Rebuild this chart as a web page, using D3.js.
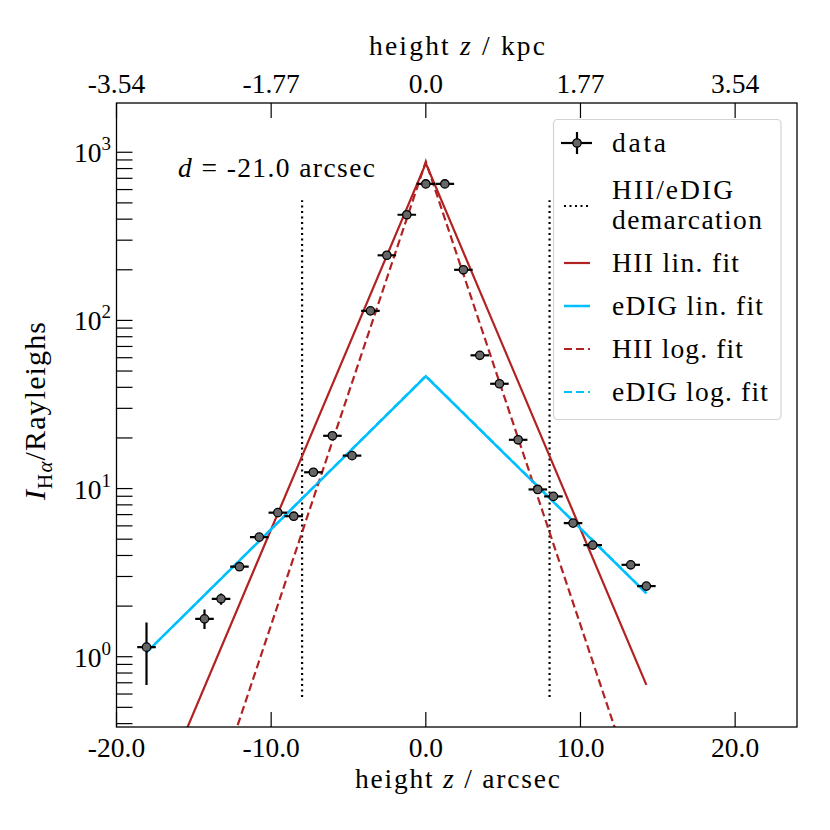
<!DOCTYPE html>
<html>
<head>
<meta charset="utf-8">
<script src="https://cdn.jsdelivr.net/npm/d3@7"></script>
<style>
  html, body { margin: 0; padding: 0; background: #fff; }
  text { font-family: "Liberation Serif", "DejaVu Serif", serif; fill: #000; }
</style>
</head>
<body>
<div id="chart"></div>
<script>
// ---- data ----
const zArcsec = [-18.06, -14.31, -13.24, -12.05, -10.77, -9.57, -8.54, -7.27, -6.04, -4.77,
                 -3.58, -2.52, -1.23, 0.0, 1.23, 2.43, 3.49, 4.76, 5.97, 7.24,
                 8.25, 9.52, 10.79, 13.25, 14.26];
const intensity = [1.14, 1.68, 2.21, 3.43, 5.14, 7.19, 6.85, 12.5, 20.6, 15.7,
                   114, 244, 425, 648, 648, 200, 62, 42.0, 19.5, 9.88,
                   8.98, 6.23, 4.61, 3.52, 2.63];
const intensityLo = [0.68, 1.46, 2.04, 3.3, 4.95, 6.95, 6.6, 12.1, 20.0, 15.2,
                     111, 238, 416, 636, 636, 195, 60.5, 40.8, 18.9, 9.5,
                     8.6, 5.98, 4.4, 3.38, 2.5];
const intensityHi = [1.60, 1.91, 2.38, 3.56, 5.33, 7.43, 7.1, 12.9, 21.2, 16.2,
                     117, 250, 434, 660, 660, 205, 63.5, 43.2, 20.1, 10.26,
                     9.36, 6.48, 4.82, 3.66, 2.76];
const zErr = 0.6;

// fit lines: vertices [z, I]
const hiiLinFit  = [[-18.06, 0.101], [0, 858], [14.26, 0.68]];
const hiiLogFit  = [[-18.06, 0.0093], [0, 880], [14.26, 0.1035]];
const edigLinFit = [[-18.06, 1.06], [0, 46.5], [14.26, 2.38]];
const edigLogFit = [[-18.06, 1.06], [0, 46.8], [14.26, 2.39]];
const demarcZ = [-8.0, 8.0];
const demarcRange = [0.577, 518];

const xTicks = [-20, -10, 0, 10, 20];
const xTickLabels = ["-20.0", "-10.0", "0.0", "10.0", "20.0"];
const topTickLabels = ["-3.54", "-1.77", "0.0", "1.77", "3.54"];
const yMajorExp = [0, 1, 2, 3];
const legendLabels = [["data"], ["HII/eDIG", "demarcation"], ["HII lin. fit"], ["eDIG lin. fit"], ["HII log. fit"], ["eDIG log. fit"]];
const legendWidths = [[54], [121, 150], [127], [151], [131], [156]];

// ---- layout ----
const W = 830, H = 830;
const m = {left: 116.5, right: 797, top: 103, bottom: 727};
const red = "#b22222", cyan = "#00bfff";

const svg = d3.select("#chart").append("svg").attr("width", W).attr("height", H);

const x = d3.scaleLinear().domain([-20, 24]).range([m.left, m.right]);
const y = d3.scaleLog().domain([0.382, 1963]).range([m.bottom, m.top]);

svg.append("defs").append("clipPath").attr("id", "clip")
  .append("rect").attr("x", m.left).attr("y", m.top)
  .attr("width", m.right - m.left).attr("height", m.bottom - m.top);

const fs = 27.5;

// ticks (inside)
const tickG = svg.append("g").attr("stroke", "#000").attr("stroke-width", 1.2);
xTicks.forEach(t => {
  tickG.append("line").attr("x1", x(t)).attr("x2", x(t)).attr("y1", m.bottom).attr("y2", m.bottom - 15);
  tickG.append("line").attr("x1", x(t)).attr("x2", x(t)).attr("y1", m.top).attr("y2", m.top + 15);
});
const yMinor = [];
for (let e = -1; e <= 3; e++) for (let k = 1; k <= 9; k++) {
  const v = k * Math.pow(10, e);
  if (v >= y.domain()[0] && v <= y.domain()[1]) yMinor.push(v);
}
yMinor.forEach(v => {
  tickG.append("line").attr("x1", m.left).attr("x2", m.left + 16).attr("y1", y(v)).attr("y2", y(v));
});

// x tick labels
svg.append("g").selectAll("text").data(xTicks).join("text")
  .attr("x", d => x(d)).attr("y", 757).attr("text-anchor", "middle")
  .attr("font-size", fs).text((d, i) => xTickLabels[i]);
svg.append("g").selectAll("text").data(xTicks).join("text")
  .attr("x", d => x(d)).attr("y", 93).attr("text-anchor", "middle")
  .attr("font-size", fs).text((d, i) => topTickLabels[i]);

// y tick labels
yMajorExp.forEach(e => {
  const t = svg.append("text").attr("x", 111).attr("y", y(Math.pow(10, e)) + 10)
    .attr("text-anchor", "end").attr("font-size", fs);
  t.append("tspan").text("10");
  t.append("tspan").attr("dy", -12).attr("font-size", 19).text(e);
});

// axis labels
const xl = svg.append("text").attr("x", 355).attr("y", 788).attr("font-size", fs)
  .attr("textLength", 205).attr("lengthAdjust", "spacing");
xl.append("tspan").text("height ");
xl.append("tspan").attr("font-style", "italic").text("z");
xl.append("tspan").text(" / arcsec");
const tl = svg.append("text").attr("x", 369).attr("y", 55).attr("font-size", fs)
  .attr("textLength", 176).attr("lengthAdjust", "spacing");
tl.append("tspan").text("height ");
tl.append("tspan").attr("font-style", "italic").text("z");
tl.append("tspan").text(" / kpc");

const yl = svg.append("text").attr("transform", "translate(45,500) rotate(-90)")
  .attr("font-size", 30).attr("textLength", 178).attr("lengthAdjust", "spacing");
yl.append("tspan").attr("font-style", "italic").text("I");
yl.append("tspan").attr("dy", 7).attr("font-size", 21).text("H");
yl.append("tspan").attr("font-size", 21).attr("font-style", "italic").text("α");
yl.append("tspan").attr("dy", -7).text("/Rayleighs");

// annotation
const an = svg.append("text").attr("x", 178).attr("y", 177).attr("font-size", fs)
  .attr("textLength", 197).attr("lengthAdjust", "spacing");
an.append("tspan").attr("font-style", "italic").text("d");
an.append("tspan").text(" = -21.0 arcsec");

// plot content
const plot = svg.append("g").attr("clip-path", "url(#clip)");
const line = d3.line().x(d => x(d[0])).y(d => y(d[1]));

demarcZ.forEach(z => {
  plot.append("line").attr("x1", x(z)).attr("x2", x(z))
    .attr("y1", y(demarcRange[0])).attr("y2", y(demarcRange[1]))
    .attr("stroke", "#000").attr("stroke-width", 2.2).attr("stroke-dasharray", "2,3.5");
});

plot.append("path").datum(hiiLinFit).attr("d", line).attr("fill", "none").attr("stroke", red).attr("stroke-width", 2.2);
plot.append("path").datum(edigLinFit).attr("d", line).attr("fill", "none").attr("stroke", cyan).attr("stroke-width", 2.5);
plot.append("path").datum(hiiLogFit).attr("d", line).attr("fill", "none").attr("stroke", red).attr("stroke-width", 2.2).attr("stroke-dasharray", "8,4");
plot.append("path").datum(edigLogFit).attr("d", line).attr("fill", "none").attr("stroke", cyan).attr("stroke-width", 2.2).attr("stroke-dasharray", "8,4");

// data with error bars
const pts = zArcsec.map((z, i) => ({z, v: intensity[i], lo: intensityLo[i], hi: intensityHi[i]}));
const eg = plot.append("g").attr("stroke", "#000").attr("stroke-width", 2.2);
pts.forEach(p => {
  eg.append("line").attr("x1", x(p.z - zErr)).attr("x2", x(p.z + zErr)).attr("y1", y(p.v)).attr("y2", y(p.v));
  eg.append("line").attr("x1", x(p.z)).attr("x2", x(p.z)).attr("y1", y(p.lo)).attr("y2", y(p.hi));
});
plot.append("g").selectAll("circle").data(pts).join("circle")
  .attr("cx", d => x(d.z)).attr("cy", d => y(d.v)).attr("r", 4.2)
  .attr("fill", "#666").attr("stroke", "#000").attr("stroke-width", 1.3);

// frame
svg.append("rect").attr("x", m.left).attr("y", m.top).attr("width", m.right - m.left).attr("height", m.bottom - m.top)
  .attr("fill", "none").attr("stroke", "#000").attr("stroke-width", 1.3);

// legend
const lg = svg.append("g");
lg.append("rect").attr("x", 553.5).attr("y", 119.5).attr("width", 227.5).attr("height", 300).attr("rx", 4)
  .attr("fill", "#fff").attr("fill-opacity", 0.85).attr("stroke", "#d4d4d4").attr("stroke-width", 1.2);
const rowY = [143, 206, 263, 306, 349, 392];
const hx0 = 564, hx1 = 590;
lg.append("line").attr("x1", 561).attr("x2", 592).attr("y1", rowY[0]).attr("y2", rowY[0]).attr("stroke", "#000").attr("stroke-width", 2.2);
lg.append("line").attr("x1", 577).attr("x2", 577).attr("y1", rowY[0] - 11).attr("y2", rowY[0] + 11).attr("stroke", "#000").attr("stroke-width", 2.2);
lg.append("circle").attr("cx", 577).attr("cy", rowY[0]).attr("r", 4.2).attr("fill", "#666").attr("stroke", "#000").attr("stroke-width", 1.3);
lg.append("line").attr("x1", hx0).attr("x2", hx1).attr("y1", rowY[1]).attr("y2", rowY[1]).attr("stroke", "#000").attr("stroke-width", 2.2).attr("stroke-dasharray", "2,3.5");
lg.append("line").attr("x1", hx0).attr("x2", hx1).attr("y1", rowY[2]).attr("y2", rowY[2]).attr("stroke", red).attr("stroke-width", 2.2);
lg.append("line").attr("x1", hx0).attr("x2", hx1).attr("y1", rowY[3]).attr("y2", rowY[3]).attr("stroke", cyan).attr("stroke-width", 2.5);
lg.append("line").attr("x1", hx0).attr("x2", hx1).attr("y1", rowY[4]).attr("y2", rowY[4]).attr("stroke", red).attr("stroke-width", 2.2).attr("stroke-dasharray", "8,4");
lg.append("line").attr("x1", hx0).attr("x2", hx1).attr("y1", rowY[5]).attr("y2", rowY[5]).attr("stroke", cyan).attr("stroke-width", 2.2).attr("stroke-dasharray", "8,4");
legendLabels.forEach((lab, i) => {
  if (lab.length === 1) {
    lg.append("text").attr("x", 612).attr("y", rowY[i] + 9).attr("font-size", fs)
      .attr("textLength", legendWidths[i][0]).attr("lengthAdjust", "spacing").text(lab[0]);
  } else {
    lg.append("text").attr("x", 612).attr("y", 199).attr("font-size", fs)
      .attr("textLength", legendWidths[i][0]).attr("lengthAdjust", "spacing").text(lab[0]);
    lg.append("text").attr("x", 612).attr("y", 229).attr("font-size", fs)
      .attr("textLength", legendWidths[i][1]).attr("lengthAdjust", "spacing").text(lab[1]);
  }
});
</script>
</body>
</html>
